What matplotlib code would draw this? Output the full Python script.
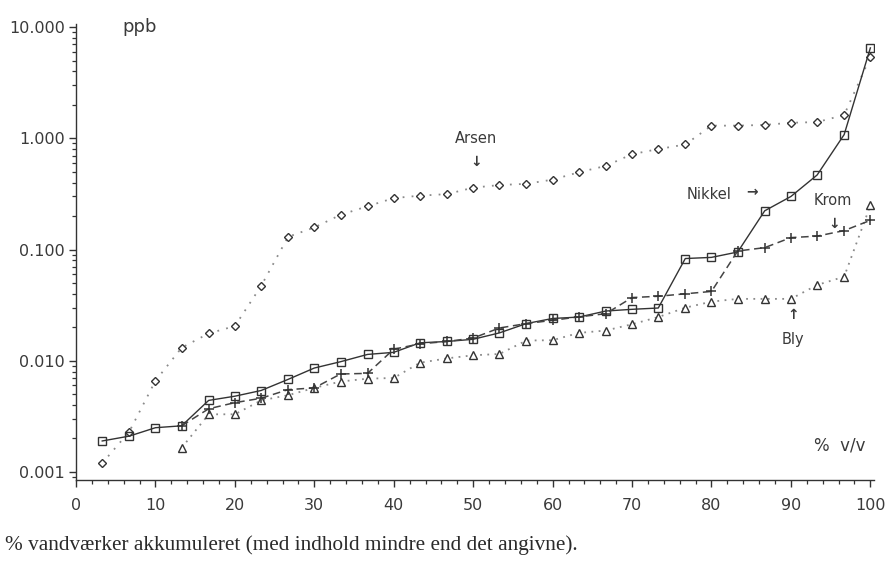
import numpy as np
import matplotlib
matplotlib.use("Agg")
import matplotlib.pyplot as plt
from matplotlib.ticker import FixedLocator, LogLocator, MultipleLocator, NullFormatter

# ---- data ----
pct = [3.3, 6.7, 10.0, 13.3, 16.7, 20.0, 23.3, 26.7, 30.0, 33.3,
       36.7, 40.0, 43.3, 46.7, 50.0, 53.3, 56.7, 60.0, 63.3, 66.7,
       70.0, 73.3, 76.7, 80.0, 83.3, 86.7, 90.0, 93.3, 96.7, 100.0]

arsen = [0.0012, 0.0023, 0.0066, 0.0131, 0.0176, 0.0205, 0.047, 0.13, 0.158, 0.205,
         0.245, 0.29, 0.305, 0.315, 0.36, 0.38, 0.39, 0.425, 0.495, 0.565,
         0.72, 0.80, 0.88, 1.30, 1.30, 1.32, 1.38, 1.40, 1.62, 5.4]

nikkel = [0.0019, 0.0021, 0.0025, 0.0026, 0.0044, 0.0048, 0.0054, 0.0068, 0.0086, 0.0098,
          0.0114, 0.0119, 0.0145, 0.0149, 0.0156, 0.0178, 0.0216, 0.024, 0.0247, 0.028,
          0.029, 0.0298, 0.083, 0.085, 0.095, 0.223, 0.30, 0.468, 1.08, 6.5]

krom = [np.nan, np.nan, np.nan, 0.0026, 0.0037, 0.0042, 0.0046, 0.0055, 0.0057, 0.0076,
        0.0077, 0.0127, 0.0142, 0.0149, 0.016, 0.0197, 0.0216, 0.0231, 0.0248, 0.0265,
        0.037, 0.038, 0.040, 0.042, 0.097, 0.104, 0.128, 0.132, 0.148, 0.183]

bly = [np.nan, np.nan, np.nan, 0.00165, 0.0033, 0.0033, 0.0044, 0.0049, 0.0057, 0.0065,
       0.0069, 0.0070, 0.0096, 0.0105, 0.0112, 0.0115, 0.0152, 0.0153, 0.0178, 0.0187,
       0.0213, 0.0247, 0.030, 0.034, 0.036, 0.036, 0.036, 0.048, 0.057, 0.249]

y_ticks = [0.001, 0.01, 0.1, 1, 10]
y_tick_labels = ["0.001", "0.010", "0.100", "1.000", "10.000"]
x_ticks = [0, 10, 20, 30, 40, 50, 60, 70, 80, 90, 100]
x_tick_labels = ["0", "10", "20", "30", "40", "50", "60", "70", "80", "90", "100"]

ink = "#333333"
sans = ["DejaVu Sans"]

fig = plt.figure(figsize=(8.89, 5.66), dpi=100)
ax = fig.add_axes([0.0855, 0.152, 0.898, 0.806])
ax.set_yscale("log")
ax.set_xlim(0, 100.5)
ax.set_ylim(10 ** -3.072, 10 ** 1.03)

ax.plot(pct, arsen, linestyle=(0, (1, 4)), color="#8a8a8a", lw=1.3,
        marker="D", ms=4.5, mfc="white", mec=ink, mew=1.0, zorder=3)
ax.plot(pct, nikkel, linestyle="-", color=ink, lw=1.0,
        marker="s", ms=6, mfc="none", mec=ink, mew=1.0, zorder=4)
ax.plot(pct, krom, linestyle=(0, (5, 3)), color="#444444", lw=1.1,
        marker="+", ms=7.5, mec=ink, mew=1.1, zorder=4)
ax.plot(pct, bly, linestyle=(0, (1, 3)), color="#8a8a8a", lw=1.3,
        marker="^", ms=5.5, mfc="white", mec=ink, mew=1.0, zorder=3)

# axes styling
for s in ("top", "right"):
    ax.spines[s].set_visible(False)
for s in ("left", "bottom"):
    ax.spines[s].set_color(ink)
    ax.spines[s].set_linewidth(1.0)

ax.yaxis.set_major_locator(FixedLocator(y_ticks))
ax.set_yticklabels(y_tick_labels)
ax.yaxis.set_minor_locator(LogLocator(base=10, subs=np.arange(2, 10)))
ax.yaxis.set_minor_formatter(NullFormatter())
ax.xaxis.set_major_locator(FixedLocator(x_ticks))
ax.set_xticklabels(x_tick_labels)
ax.xaxis.set_minor_locator(MultipleLocator(2))

ax.tick_params(axis="both", which="major", direction="out", length=5, width=1,
               color=ink, labelcolor="#3a3a3a", labelsize=11.5)
ax.tick_params(axis="both", which="minor", direction="out", length=3, width=0.9, color=ink)
ax.tick_params(axis="x", pad=8)
ax.tick_params(axis="y", pad=3)
for lab in ax.get_xticklabels() + ax.get_yticklabels():
    lab.set_family(sans)

# annotations
tkw = dict(color="#3a3a3a", family=sans, ha="center", va="center")
ax.text(8, 10, "ppb", fontsize=13, **tkw)
ax.text(50.4, 1.0, "Arsen", fontsize=10.5, **tkw)
ax.text(50.4, 0.61, "\u2193", fontsize=10, fontweight="bold", **tkw)
ax.text(79.7, 0.31, "Nikkel", fontsize=10.5, **tkw)
ax.text(85.1, 0.33, "\u2192", fontsize=10, fontweight="bold", **tkw)
ax.text(95.3, 0.274, "Krom", fontsize=10.5, **tkw)
ax.text(95.5, 0.17, "\u2193", fontsize=10, fontweight="bold", **tkw)
ax.text(90.3, 0.0156, "Bly", fontsize=10.5, **tkw)
ax.text(90.3, 0.026, "\u2191", fontsize=10, fontweight="bold", **tkw)
ax.text(96.1, 0.00172, "%  v/v", fontsize=12, **tkw)

fig.text(0.006, 0.037, "% vandværker akkumuleret (med indhold mindre end det angivne).",
         family=["Liberation Serif"], fontsize=15.3, color="#2a2a2a", ha="left", va="center")

fig.savefig("out.png", dpi=100, facecolor="white")
